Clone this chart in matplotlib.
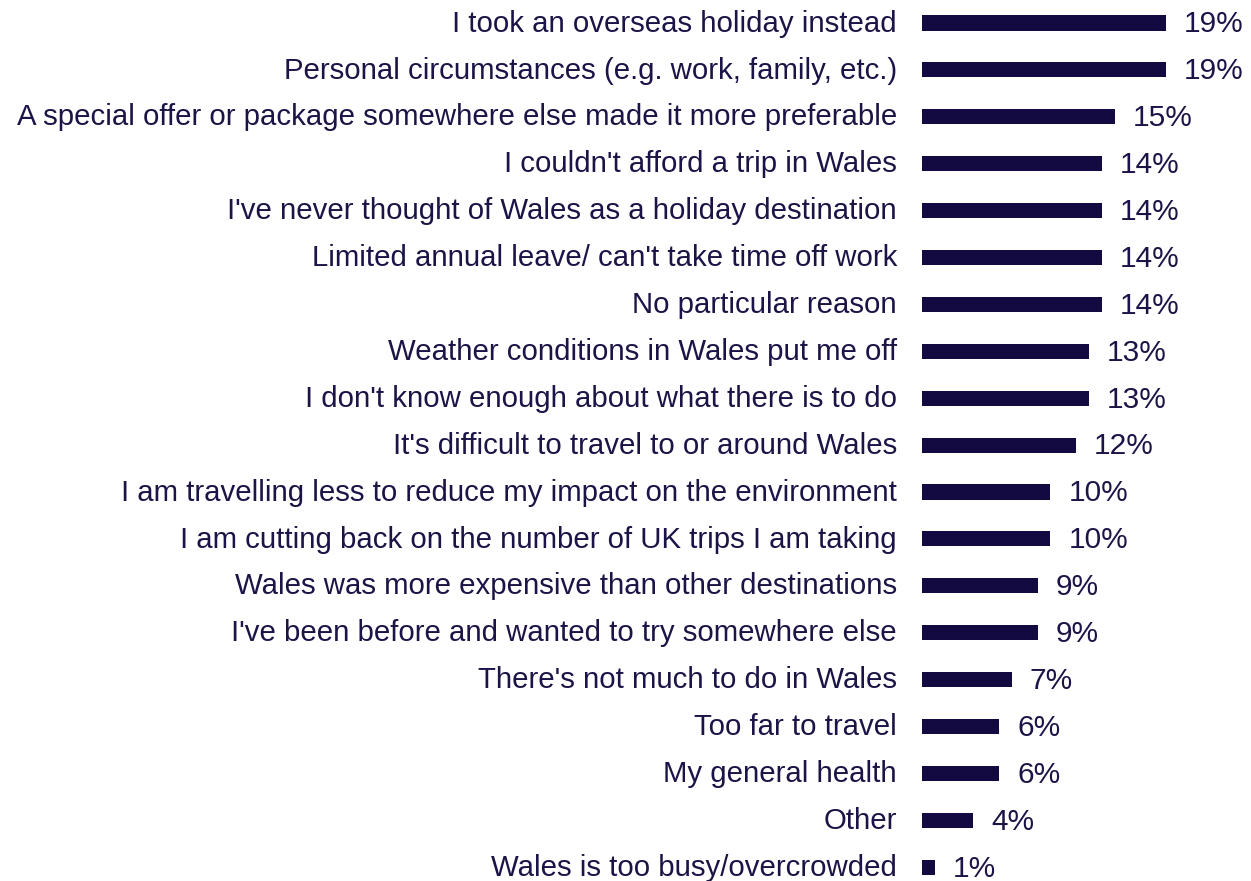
import matplotlib
matplotlib.use("Agg")
import matplotlib.pyplot as plt

plt.rcParams["font.family"] = ["Liberation Sans", "DejaVu Sans"]

reasons = [
    "I took an overseas holiday instead",
    "Personal circumstances (e.g. work, family, etc.)",
    "A special offer or package somewhere else made it more preferable",
    "I couldn't afford a trip in Wales",
    "I've never thought of Wales as a holiday destination",
    "Limited annual leave/ can't take time off work",
    "No particular reason",
    "Weather conditions in Wales put me off",
    "I don't know enough about what there is to do",
    "It's difficult to travel to or around Wales",
    "I am travelling less to reduce my impact on the environment",
    "I am cutting back on the number of UK trips I am taking",
    "Wales was more expensive than other destinations",
    "I've been before and wanted to try somewhere else",
    "There's not much to do in Wales",
    "Too far to travel",
    "My general health",
    "Other",
    "Wales is too busy/overcrowded",
]
shares = [19, 19, 15, 14, 14, 14, 14, 13, 13, 12, 10, 10, 9, 9, 7, 6, 6, 4, 1]

BAR = "#140a42"
TEXT = "#1b1547"

W, H = 1251, 881
fig = plt.figure(figsize=(W / 100, H / 100), dpi=100)
row = 46.9
top = 23 - row / 2
ax = fig.add_axes([922 / W, (H - (top + row * len(reasons))) / H,
                   (25 * 12.84) / W, row * len(reasons) / H])

ypos = list(range(len(reasons)))
ax.barh(ypos, shares, height=0.32, color=BAR)
ax.set_xlim(0, 25)
ax.set_ylim(len(reasons) - 0.5, -0.5)

for y, label, v in zip(ypos, reasons, shares):
    ax.annotate(label, xy=(0, y), xytext=(-18, -0.5), textcoords="offset points",
                ha="right", va="center", fontsize=21.2, color=TEXT,
                annotation_clip=False)
    ax.annotate(f"{v}%", xy=(v, y), xytext=(13, -1), textcoords="offset points",
                ha="left", va="center", fontsize=21.5, color=TEXT,
                annotation_clip=False)

ax.axis("off")
fig.savefig("out.png", dpi=100, facecolor="white")
